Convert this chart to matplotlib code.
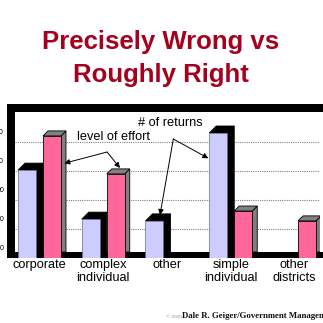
import numpy as np
import matplotlib
matplotlib.use("Agg")
import matplotlib.pyplot as plt
from matplotlib.patches import Rectangle, Polygon
import matplotlib.transforms as mtransforms

# ---- data ----
categories = ["corporate", "complex\nindividual", "other", "simple\nindividual", "other\ndistricts"]
returns_count = [3.03, 1.34, 1.28, 4.31, 0.0]   # "# of returns" (lavender)
effort_level = [4.21, 2.90, 0.0, 1.62, 1.28]     # "level of effort" (pink)
y_tick_values = [0, 1, 2, 3, 4]
y_tick_labels = ["0", "10", "20", "30", "40"]
grid_values = [1, 2, 3, 4]
title_lines = ["Precisely Wrong vs", "Roughly Right"]
effort_label = "level of effort"
returns_label = "# of returns"
footer_small = "\u00a9 2020"
footer_main = "Dale R. Geiger/Government Management"

# ---- layout ----
W = H = 323
plt.rcParams['font.family'] = ['Liberation Sans', 'DejaVu Sans']
fig = plt.figure(figsize=(W / 100, H / 100), dpi=100)
fig.patch.set_facecolor('white')


def fx(px):
    return px / W


def fy(py):
    return 1 - py / H


BLUE = '#CCCCFF'
PINK = '#FF6699'
GRAY = '#808080'
TITLE_RED = '#A5001E'

# frame (behind the axes)
frame = [
    (7, 104, 323, 112),   # top border
    (7, 104, 15, 258),    # left wall
    (7, 252, 323, 258),   # floor
]
for x0, y0, x1, y1 in frame:
    fig.add_artist(Rectangle((fx(x0), fy(y1)), fx(x1) - fx(x0), fy(y0) - fy(y1),
                             transform=fig.transFigure, facecolor='black',
                             edgecolor='none', zorder=-1))

ax = fig.add_axes([fx(15), fy(258), fx(320) - fx(15), (258 - 112) / H])
ax.set_facecolor('none')
ax.set_xlim(-0.3843, 4.400)
ax.set_ylim(0, 5.034)
for s in ax.spines.values():
    s.set_visible(False)
ax.set_axisbelow(True)
ax.set_yticks(grid_values)
ax.yaxis.grid(True, color=GRAY, linestyle=(0, (1, 1)), linewidth=0.8)
ax.tick_params(axis='y', length=0, labelleft=False)
ax.set_xticks(range(len(categories)))
ax.set_xticklabels(categories, fontsize=9.2, linespacing=1.1)
ax.tick_params(axis='x', length=0, pad=0.5)

# pixel size of one data unit
p0 = ax.transData.transform((0, 0))
p1 = ax.transData.transform((1, 1))
ux, uy = p1[0] - p0[0], p1[1] - p0[1]

x = np.arange(len(categories))
w = 18 / ux
off = 12.5 / ux
blue_bars = ax.bar(x - off, returns_count, width=w, color=BLUE,
                   edgecolor='#6a6a8a', linewidth=0.5, zorder=4)
pink_bars = ax.bar(x + off, effort_level, width=w, color=PINK,
                   edgecolor='black', linewidth=0.6, zorder=4)

floor_top = 6 / uy
for bars, depth, face, edge in [(blue_bars, 7, 'black', 'black'),
                                (pink_bars, 5, GRAY, 'black')]:
    dx, dy = depth / ux, depth / uy
    for b in bars:
        h = b.get_height()
        if h <= 0:
            b.set_visible(False)
            continue
        x0 = b.get_x()
        x1 = x0 + b.get_width()
        top = Polygon([(x0, h), (x0 + dx, h + dy), (x1 + dx, h + dy), (x1, h)],
                      closed=True, facecolor=face, edgecolor=edge, linewidth=0.6, zorder=3)
        side = Polygon([(x1, h), (x1 + dx, h + dy), (x1 + dx, floor_top), (x1, floor_top)],
                       closed=True, facecolor=face, edgecolor=edge, linewidth=0.6, zorder=3)
        ax.add_patch(side)
        ax.add_patch(top)

# y tick labels (clipped at the left edge of the picture, as in the reference)
lab_tr = mtransforms.blended_transform_factory(fig.transFigure, ax.transData)
for v, lab in zip(y_tick_values, y_tick_labels):
    ax.text(fx(4), v + 9 / uy, lab, transform=lab_tr, ha='right', va='center',
            fontsize=5, color='black', clip_on=False)

# annotations
arrow_kw = dict(arrowstyle='-|>', color='black', lw=0.7, mutation_scale=8,
                shrinkA=0, shrinkB=0)
effort_vertex = (1.059, 3.655)
for tip in [(0.389, 3.266), (1.263, 3.103)]:
    ax.annotate('', xy=tip, xytext=effort_vertex, arrowprops=arrow_kw,
                annotation_clip=False, zorder=6)
returns_vertex = (2.099, 4.103)
for tip in [(1.890, 1.483), (2.648, 3.438)]:
    ax.annotate('', xy=tip, xytext=returns_vertex, arrowprops=arrow_kw,
                annotation_clip=False, zorder=6)

fig.text(fx(77), fy(139.5), effort_label, fontsize=9.2, ha='left', va='baseline')
fig.text(fx(137.7), fy(125.5), returns_label, fontsize=9.2, ha='left', va='baseline')

# title
fig.text(fx(161), fy(49), title_lines[0], fontsize=18.5, fontweight='bold',
         color=TITLE_RED, ha='center', va='baseline')
fig.text(fx(161), fy(82), title_lines[1], fontsize=18.5, fontweight='bold',
         color=TITLE_RED, ha='center', va='baseline')

# footer
fig.text(fx(166.5), fy(317.5), footer_small, fontsize=3.8, color='#888888',
         ha='left', va='baseline', family='Liberation Serif')
fig.text(fx(181.5), fy(317.5), footer_main, fontsize=6.3, color='#111111',
         ha='left', va='baseline', family='Liberation Serif', fontweight='bold')

fig.savefig('out.png', dpi=100)
